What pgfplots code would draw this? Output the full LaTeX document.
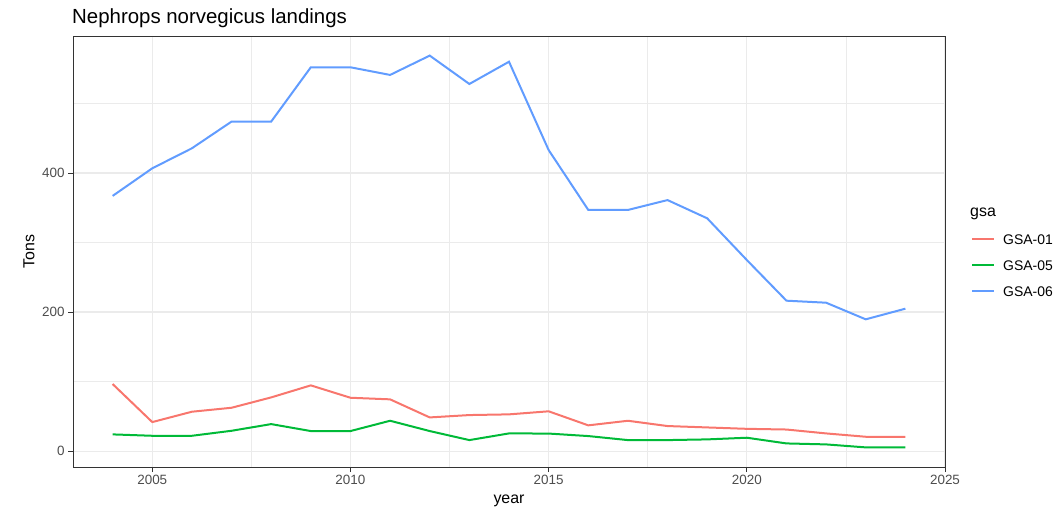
\documentclass[border=0pt]{standalone}
\usepackage{fontspec}
\setmainfont{Liberation Sans}
\usepackage{pgfplots}
\pgfplotsset{compat=1.18}

\definecolor{gsa01}{HTML}{F8766D}
\definecolor{gsa05}{HTML}{00BA38}
\definecolor{gsa06}{HTML}{619CFF}
\definecolor{grey92}{HTML}{EBEBEB}
\definecolor{grey20}{HTML}{333333}
\definecolor{grey30}{HTML}{4D4D4D}

\begin{document}
\begin{tikzpicture}
\useasboundingbox (0bp,0bp) rectangle (1063bp,511bp);
\begin{axis}[
    at={(73bp,44bp)}, anchor=south west,
    scale only axis, width=872bp, height=431bp,
    xmin=2003, xmax=2025, ymin=-22.9, ymax=597,
    xtick={2005,2010,2015,2020,2025},
    ytick={0,200,400},
    minor xtick={2007.5,2012.5,2017.5,2022.5},
    minor ytick={100,300,500},
    grid=both,
    major grid style={grey92, line width=1.1bp},
    minor grid style={grey92, line width=0.55bp},
    axis line style={grey20, line width=0.9bp},
    tick align=outside, tick pos=left,
    major tick length=5bp, minor tick length=0bp,
    tick style={grey20, line width=0.9bp},
    /pgf/number format/assume math mode=true,
    /pgf/number format/1000 sep={},
    ticklabel style={font=\fontsize{13.5}{15}\selectfont, text=grey30},
    xlabel={year}, ylabel={Tons},
    xlabel style={at={(axis description cs:0.5,-0.0858)}, anchor=base,
        font=\fontsize{16}{18}\selectfont},
    ylabel style={at={(axis description cs:-0.0505,0.5)}, anchor=center,
        font=\fontsize{16}{18}\selectfont},
    legend cell align=left,
    legend image code/.code={\draw[#1] (0bp,0bp) -- (22bp,0bp);},
    legend style={at={(axis description cs:1.0298,0.5406)}, anchor=north west,
        draw=none, fill=none, inner sep=0pt, row sep=16bp, column sep=8bp,
        font=\fontsize{14}{16}\selectfont,
        nodes={inner sep=0pt, text height=10bp, text depth=0bp}},
]
\addplot[gsa01, line width=2bp] table {
x y
2004 96.4
2005 41.7
2006 56.6
2007 62.3
2008 77.2
2009 94.5
2010 76.7
2011 74.4
2012 48.4
2013 51.8
2014 52.8
2015 57.2
2016 37.0
2017 43.6
2018 36.0
2019 34.0
2020 32.0
2021 31.0
2022 25.4
2023 20.6
2024 20.6
};
\addplot[gsa05, line width=2bp] table {
x y
2004 24.0
2005 22.0
2006 22.0
2007 29.2
2008 38.8
2009 28.8
2010 28.8
2011 43.6
2012 28.8
2013 15.8
2014 25.4
2015 25.2
2016 21.6
2017 15.8
2018 15.8
2019 16.8
2020 19.2
2021 11.0
2022 9.6
2023 5.3
2024 5.3
};
\addplot[gsa06, line width=2bp] table {
x y
2004 367.0
2005 406.7
2006 435.5
2007 473.9
2008 473.9
2009 552.0
2010 552.0
2011 541.0
2012 568.8
2013 528.0
2014 560.0
2015 433.0
2016 346.8
2017 346.8
2018 361.0
2019 334.8
2020 274.8
2021 216.3
2022 213.4
2023 189.5
2024 204.8
};
\legend{GSA-01, GSA-05, GSA-06}
\end{axis}
% plot title and legend title
\node[anchor=base west, inner sep=0pt, font=\fontsize{20.5}{23}\selectfont]
    at (72bp,487bp) {Nephrops norvegicus landings};
\node[anchor=base west, inner sep=0pt, font=\fontsize{16}{18}\selectfont]
    at (970bp,294.3bp) {gsa};
\end{tikzpicture}
\end{document}
